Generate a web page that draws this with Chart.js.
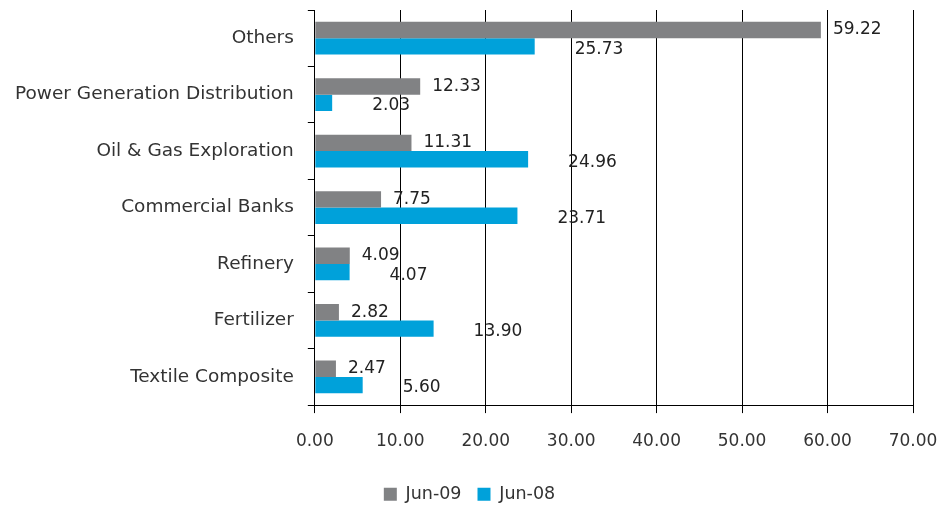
<!DOCTYPE html>
<html>
<head>
<meta charset="utf-8">
<script src="https://cdn.jsdelivr.net/npm/chart.js@4"></script>
<style>
  html, body { margin: 0; padding: 0; background: #fff; }
  #wrap { width: 938px; height: 506px; }
</style>
</head>
<body>
<div id="wrap"><canvas id="sectorChart" width="938" height="506"></canvas></div>
<script>
const categories = ['Others', 'Power Generation Distribution', 'Oil & Gas Exploration',
    'Commercial Banks', 'Refinery', 'Fertilizer', 'Textile Composite'];
const jun09 = [59.22, 12.33, 11.31, 7.75, 4.09, 2.82, 2.47];
const jun08 = [25.73, 2.03, 24.96, 23.71, 4.07, 13.90, 5.60];
const seriesNames = ['Jun-09', 'Jun-08'];

const FONT = '"DejaVu Sans", sans-serif';

// value labels to the right of each bar, the Jun-08 ones set a bit further out
const valueLabels = {
    id: 'valueLabels',
    afterDatasetsDraw(chart) {
        const ctx = chart.ctx;
        ctx.save();
        ctx.font = '17px ' + FONT;
        ctx.fillStyle = '#222';
        ctx.textBaseline = 'middle';
        ctx.textAlign = 'left';
        chart.data.datasets.forEach(function (ds, i) {
            const meta = chart.getDatasetMeta(i);
            meta.data.forEach(function (bar, j) {
                const dx = i === 0 ? 12 : 40;
                const dy = i === 0 ? 0 : 3;
                ctx.fillText(ds.data[j].toFixed(2), bar.x + dx, bar.y + dy);
            });
        });
        ctx.restore();
    }
};

document.addEventListener('DOMContentLoaded', function () {
    const ctx = document.getElementById('sectorChart').getContext('2d');
    new Chart(ctx, {
        type: 'bar',
        data: {
            labels: categories,
            datasets: [{
                label: seriesNames[0],
                data: jun09,
                backgroundColor: '#818284',
                barPercentage: 1.0,
                categoryPercentage: 0.58
            }, {
                label: seriesNames[1],
                data: jun08,
                backgroundColor: '#00a1da',
                barPercentage: 1.0,
                categoryPercentage: 0.58
            }]
        },
        options: {
            indexAxis: 'y',
            responsive: false,
            animation: false,
            layout: { padding: { top: 10, right: 0, bottom: -7, left: 1 } },
            scales: {
                x: {
                    min: 0,
                    max: 70,
                    afterFit: function (scale) { scale.paddingRight = 25; },
                    ticks: {
                        stepSize: 10,
                        color: '#333',
                        font: { family: FONT, size: 17 },
                        padding: 18,
                        callback: function (v) { return v.toFixed(2); }
                    },
                    grid: { color: '#000', lineWidth: 1, tickLength: 8, tickColor: '#000' },
                    border: { color: '#000' }
                },
                y: {
                    afterFit: function (scale) { scale.paddingTop = 0; scale.paddingBottom = 0; },
                    ticks: {
                        color: '#333',
                        font: { family: FONT, size: 18.5 },
                        padding: 14
                    },
                    grid: { drawOnChartArea: false, color: '#000', tickLength: 7 },
                    border: { color: '#000' }
                }
            },
            plugins: {
                legend: {
                    position: 'bottom',
                    labels: {
                        color: '#333',
                        font: { family: FONT, size: 17.5 },
                        boxWidth: 13,
                        boxHeight: 13,
                        padding: 16
                    }
                },
                tooltip: { enabled: false }
            }
        },
        plugins: [valueLabels]
    });
});
</script>
</body>
</html>
